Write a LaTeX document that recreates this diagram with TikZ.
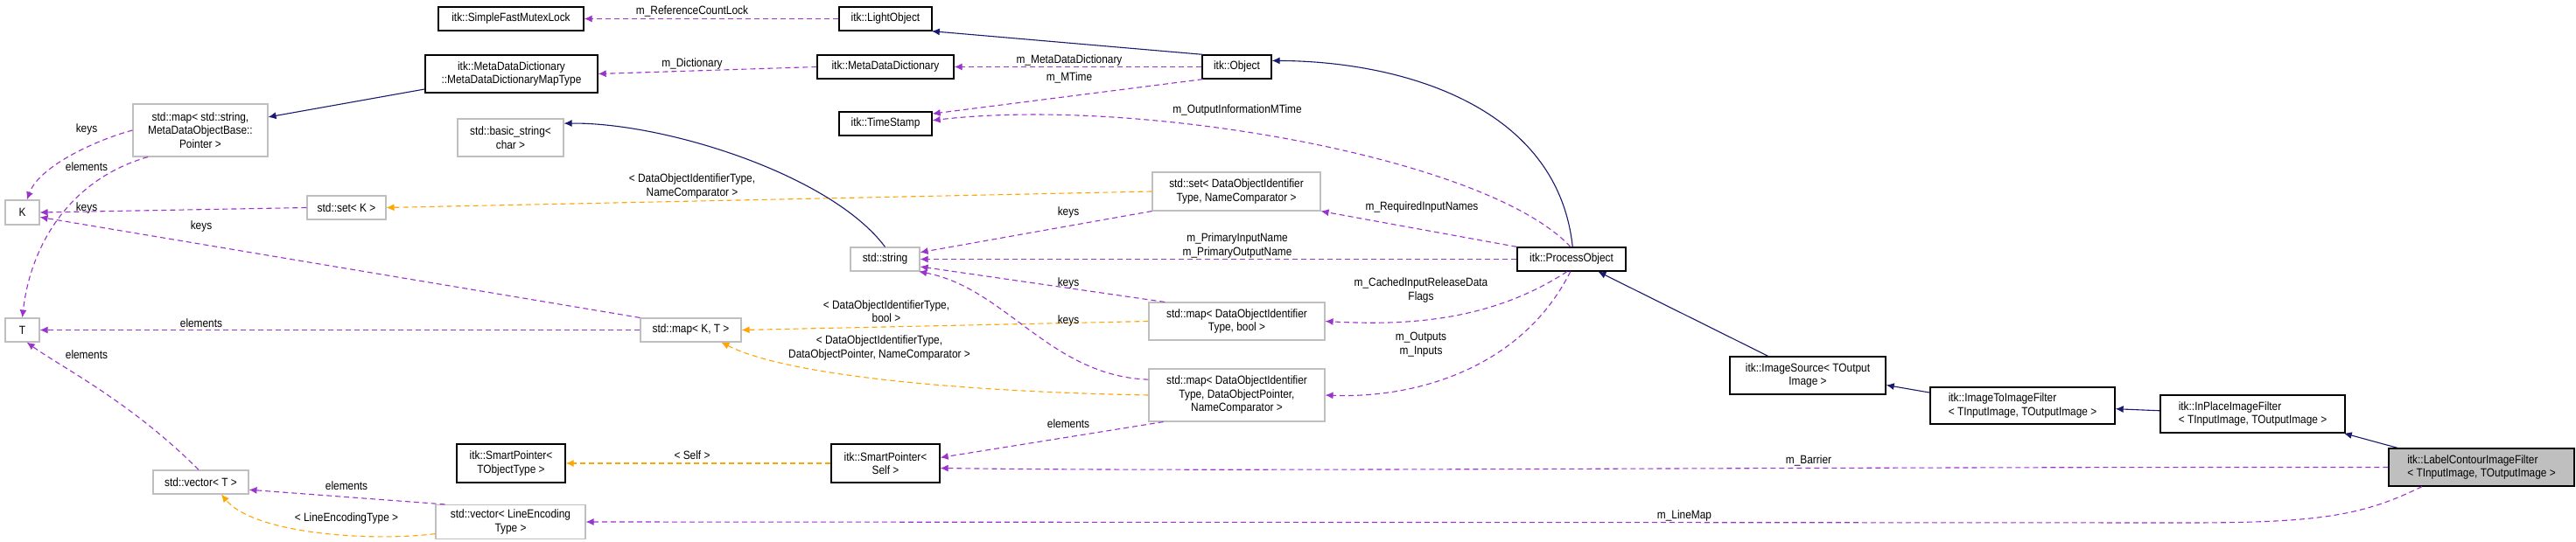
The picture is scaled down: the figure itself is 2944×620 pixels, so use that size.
\documentclass[tikz,border=0pt]{standalone}
\usepackage{fontspec}
\setmainfont{Liberation Sans}[FakeStretch=0.88]
\usetikzlibrary{arrows.meta}
\definecolor{pur}{HTML}{9A32CD}
\definecolor{org}{HTML}{FFA500}
\definecolor{nav}{HTML}{191970}
\definecolor{gbor}{HTML}{BFBFBF}
\tikzset{
  every node/.style={font=\fontsize{13.5}{15.5}\selectfont},
  bx/.style={draw=black,line width=1.3pt,fill=white,inner sep=0pt,align=center},
  gx/.style={draw=gbor,line width=1.1pt,fill=white,inner sep=0pt,align=center},
  lb/.style={inner sep=0pt,align=center},
  tip/.style={-{Latex[length=9pt,width=8pt]}},
  pe/.style={tip,draw=pur,dash pattern=on 6pt off 4pt,line width=1.1pt},
  oe/.style={tip,draw=org,dash pattern=on 6pt off 4pt,line width=1.1pt},
  ne/.style={tip,draw=nav,line width=1.1pt},
}
\begin{document}
\begin{tikzpicture}[x=1pt,y=-1pt]
\useasboundingbox[fill=white] (0,0) rectangle (2944,620);
% nodes
\node[bx,minimum width=166,minimum height=27] (sfml) at (584,21.5) {itk::SimpleFastMutexLock};
\node[bx,minimum width=106,minimum height=27] (light) at (1012,21.5) {itk::LightObject};
\node[bx,minimum width=197,minimum height=43] (mddmt) at (584.5,84.5) {itk::MetaDataDictionary\\::MetaDataDictionaryMapType};
\node[bx,minimum width=156,minimum height=27] (mdd) at (1012,76.5) {itk::MetaDataDictionary};
\node[bx,minimum width=79,minimum height=27] (obj) at (1413.5,76.5) {itk::Object};
\node[bx,minimum width=106,minimum height=27] (ts) at (1012,141.5) {itk::TimeStamp};
\node[gx,minimum width=154,minimum height=60] (mapstr) at (229,149) {std::map< std::string,\\MetaDataObjectBase::\\Pointer >};
\node[gx,minimum width=121,minimum height=43] (bstr) at (583.5,157.5) {std::basic\_string<\\char >};
\node[gx,minimum width=90,minimum height=27] (setK) at (396,237.5) {std::set< K >};
\node[gx,minimum width=39,minimum height=28] (K) at (25.5,243) {K};
\node[gx,minimum width=39,minimum height=27] (T) at (25.5,377.5) {T};
\node[gx,minimum width=115,minimum height=27] (mapKT) at (789.5,377.5) {std::map< K, T >};
\node[gx,minimum width=192,minimum height=44] (setDOI) at (1413,219) {std::set< DataObjectIdentifier\\Type, NameComparator >};
\node[gx,minimum width=79,minimum height=27] (str) at (1011.5,296.5) {std::string};
\node[bx,minimum width=124,minimum height=27] (po) at (1796,296.5) {itk::ProcessObject};
\node[gx,minimum width=201,minimum height=43] (mapbool) at (1413.5,367.5) {std::map< DataObjectIdentifier\\Type, bool >};
\node[gx,minimum width=201,minimum height=60] (mapdop) at (1413.5,452) {std::map< DataObjectIdentifier\\Type, DataObjectPointer,\\NameComparator >};
\node[bx,minimum width=124,minimum height=44] (spT) at (584,530) {itk::SmartPointer<\\TObjectType >};
\node[bx,minimum width=124,minimum height=44] (spS) at (1012,530) {itk::SmartPointer<\\Self >};
\node[gx,minimum width=109,minimum height=27] (vecT) at (229.5,551.5) {std::vector< T >};
\node[gx,minimum width=171,minimum height=39] (vecLE) at (583.5,597) {std::vector< LineEncoding\\Type >};
\node[bx,minimum width=178,minimum height=43] (is) at (2066,429.5) {itk::ImageSource< TOutput\\Image >};
\node[bx,minimum width=211,minimum height=42,align=left] (itif) at (2311.5,464) {itk::ImageToImageFilter\\< TInputImage, TOutputImage >};
\node[bx,minimum width=211,minimum height=43,align=left] (ipif) at (2574.5,473.5) {itk::InPlaceImageFilter\\< TInputImage, TOutputImage >};
\node[bx,fill=gbor,minimum width=212,minimum height=43,align=left] (lc) at (2836,534.5) {itk::LabelContourImageFilter\\< TInputImage, TOutputImage >};
\coordinate (lmbend) at (2500,598);
% edges
\draw[pe] (light.west) -- (sfml.east);
\draw[pe] (mdd.west) -- (mddmt.east);
\draw[ne] (mddmt.190) -- (mapstr.11);
\draw[pe] (mapstr.west) .. controls (110,160) and (45,190) .. (K.70);
\draw[pe] (mapstr.207) .. controls (80,205) and (35,280) .. (T.north);
\draw[pe] (setK.west) -- (K.east);
\draw[pe] (mapKT.north west) -- (K.345);
\draw[pe] (mapKT.west) -- (T.east);
\draw[pe] (vecT.100) .. controls (150,460) and (70,420) .. (T.290);
\draw[oe] (setDOI.west) -- (setK.east);
\draw[ne] (str.north) .. controls (950,200) and (760,140) .. (bstr.15);
\draw[ne] (obj.160) -- (light.345);
\draw[pe] (obj.west) -- (mdd.east);
\draw[pe] (obj.200) -- (ts.12);
\draw[pe] (po.95) .. controls (1700,180) and (1300,110) .. (ts.4);
\draw[ne] (po.85) .. controls (1780,120) and (1600,70) .. (obj.10);
\draw[pe] (po.north west) -- (setDOI.south east);
\draw[pe] (setDOI.south west) -- (str.11);
\draw[pe] (po.west) -- (str.east);
\draw[pe] (mapbool.165) -- (str.-12);
\draw[pe] (po.250) .. controls (1700,370) and (1600,372) .. (mapbool.east);
\draw[oe] (mapbool.west) -- (mapKT.east);
\draw[oe] (mapdop.west) .. controls (1100,448) and (900,430) .. (mapKT.-22);
\draw[pe] (mapdop.170) .. controls (1200,430) and (1150,330) .. (str.-20);
\draw[pe] (po.265) .. controls (1740,420) and (1620,456) .. (mapdop.east);
\draw[pe] (mapdop.200) -- (spS.6);
\draw[oe] (spS.west) -- (spT.east);
\draw[pe] (lc.west) .. controls (2000,534) and (1400,540) .. (spS.-5);
\draw[pe] (lc.198) .. controls (2700,590) and (2650,598) .. (lmbend) -- (vecLE.east);
\draw[pe] (vecLE.165) -- (vecT.-9);
\draw[oe] (vecLE.189) .. controls (420,620) and (290,610) .. (vecT.-31);
\draw[ne] (is.154) -- (po.-25);
\draw[ne] (itif.172) -- (is.-7);
\draw[ne] (ipif.178) -- (itif.-2);
\draw[ne] (lc.167) -- (ipif.-12);
% labels
\node[lb] (l1) at (791,13) {m\_ReferenceCountLock};
\node[lb] (l2) at (791,73) {m\_Dictionary};
\node[lb] (l3) at (99,148) {keys};
\node[lb] (l4) at (99,191) {elements};
\node[lb] (l5) at (99,238) {keys};
\node[lb] (l6) at (230,259) {keys};
\node[lb] (l7) at (230,370) {elements};
\node[lb] (l8) at (99,406) {elements};
\node[lb] (l9) at (791,213) {< DataObjectIdentifierType,\\NameComparator >};
\node[lb] (l10) at (1222,69) {m\_MetaDataDictionary};
\node[lb] (l11) at (1222,89) {m\_MTime};
\node[lb] (l12) at (1414,126) {m\_OutputInformationMTime};
\node[lb] (l13) at (1625,237) {m\_RequiredInputNames};
\node[lb] (l14) at (1221,243) {keys};
\node[lb] (l15) at (1414,281) {m\_PrimaryInputName\\m\_PrimaryOutputName};
\node[lb] (l16) at (1221,324) {keys};
\node[lb] (l17) at (1624,332) {m\_CachedInputReleaseData\\Flags};
\node[lb] (l18) at (1013,356) {< DataObjectIdentifierType,\\bool >};
\node[lb] (l19) at (1005,398) {< DataObjectIdentifierType,\\DataObjectPointer, NameComparator >};
\node[lb] (l20) at (1221,367) {keys};
\node[lb] (l21) at (1624,394) {m\_Outputs\\m\_Inputs};
\node[lb] (l22) at (1221,485) {elements};
\node[lb] (l23) at (791,521) {< Self >};
\node[lb] (l24) at (2067,527) {m\_Barrier};
\node[lb] (l25) at (1925,590) {m\_LineMap};
\node[lb] (l26) at (396,556) {elements};
\node[lb] (l27) at (396,593) {< LineEncodingType >};
\end{tikzpicture}
\end{document}
